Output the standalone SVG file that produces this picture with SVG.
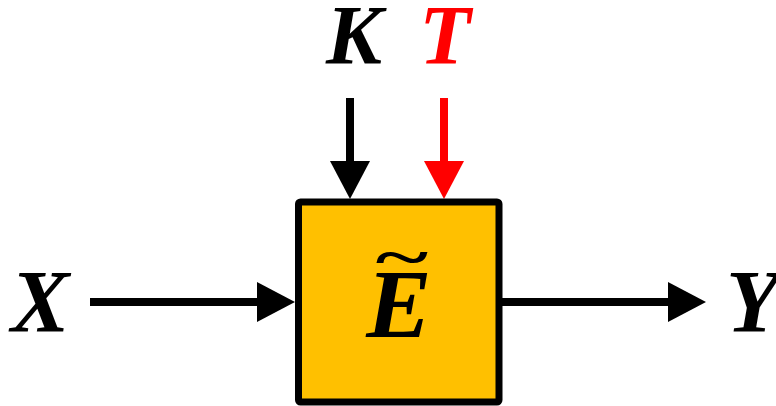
<svg xmlns="http://www.w3.org/2000/svg" width="776" height="406" viewBox="0 0 776 406">
<style>
.lbl{font-family:"Liberation Serif","DejaVu Serif",serif;font-weight:bold;font-style:italic;}
.box{fill:#FFC000;stroke:#000;stroke-width:7;}
.ln{stroke-width:8;fill:none;}
</style>
<defs>
<marker id="ah" markerUnits="userSpaceOnUse" markerWidth="40" markerHeight="40" viewBox="0 0 38 40" refX="1" refY="20" orient="auto"><path d="M0,0 L38,20 L0,40 Z" fill="#000"/></marker>
<marker id="ahr" markerUnits="userSpaceOnUse" markerWidth="40" markerHeight="40" viewBox="0 0 38 40" refX="1" refY="20" orient="auto"><path d="M0,0 L38,20 L0,40 Z" fill="#FF0000"/></marker>
</defs>
<g id="connectors">
<line class="ln" x1="90" y1="302" x2="258" y2="302" stroke="#000" marker-end="url(#ah)"/>
<line class="ln" x1="502" y1="302" x2="669" y2="302" stroke="#000" marker-end="url(#ah)"/>
<line class="ln" x1="350" y1="98" x2="350" y2="162" stroke="#000" marker-end="url(#ah)"/>
<line class="ln" x1="444" y1="98" x2="444" y2="162" stroke="#FF0000" marker-end="url(#ahr)"/>
</g>
<g id="E">
<rect class="box" x="298.5" y="202" width="200.5" height="200" rx="2"/>
<text class="lbl" x="399" y="337" font-size="98" text-anchor="middle">E</text>
<text class="lbl" x="0" y="0" font-size="56" text-anchor="middle" transform="translate(401,276) scale(1.8,1)">~</text>
</g>
<g id="K"><text class="lbl" x="354" y="64" font-size="84" text-anchor="middle">K</text></g>
<g id="T"><text class="lbl" x="445" y="64" font-size="84" text-anchor="middle" fill="#FF0000">T</text></g>
<g id="X"><text class="lbl" x="40" y="331" font-size="88" text-anchor="middle">X</text></g>
<g id="Y"><text class="lbl" x="753" y="331" font-size="88" text-anchor="middle">Y</text></g>
</svg>
